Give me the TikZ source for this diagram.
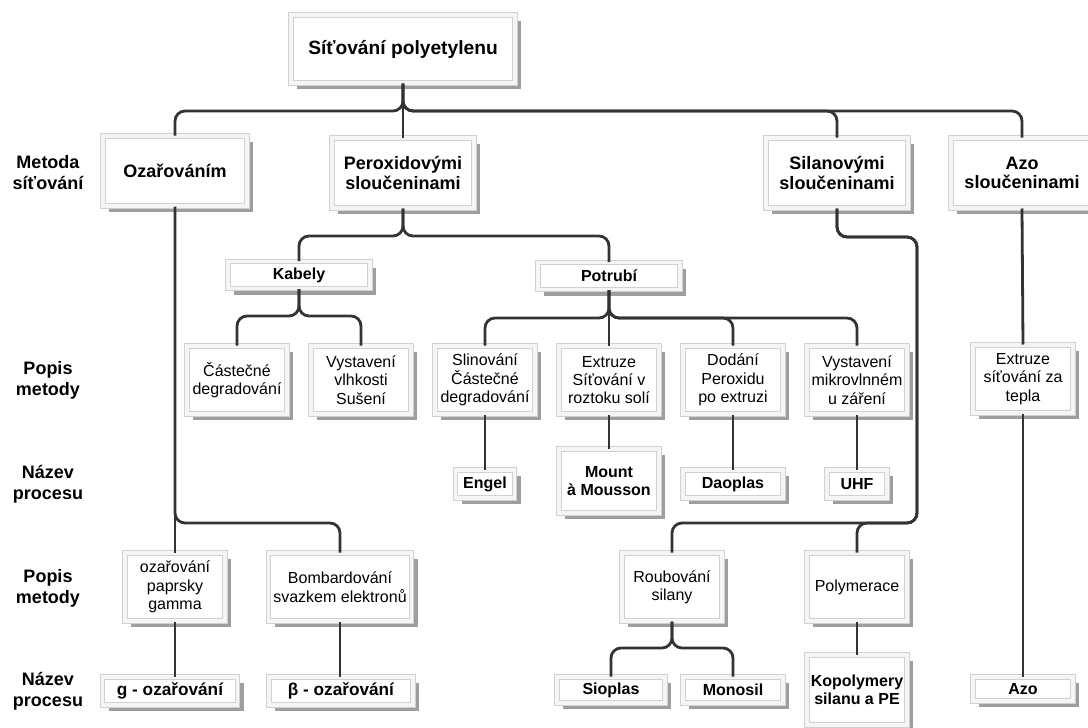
\documentclass[tikz,border=0pt]{standalone}
\usepackage{fontspec}
\setmainfont{Liberation Sans}
\usetikzlibrary{shadows}

\begin{document}
\begin{tikzpicture}[
    x=0.5pt, y=-0.5pt,
    box/.style={draw=black!18, line width=0.5pt, double=black!4, double distance=1.6pt, fill=white, align=center, inner sep=1pt,
        drop shadow={shadow xshift=3pt, shadow yshift=-3pt, fill=black!38, opacity=1}},
    head/.style={box, minimum width=71pt, minimum height=35pt, font=\bfseries\fontsize{9}{9.6}\selectfont},
    desc/.style={box, minimum width=50pt, minimum height=34pt, font=\fontsize{8}{9.2}\selectfont},
    proc/.style={box, minimum height=14pt, font=\bfseries\fontsize{8}{8.8}\selectfont},
    bigproc/.style={proc, font=\bfseries\fontsize{8.6}{9.5}\selectfont},
    side/.style={align=center, font=\bfseries\fontsize{9}{10.5}\selectfont},
    conn/.style={draw=black!80, line width=1.4pt, rounded corners=5pt}
]
\useasboundingbox (0,0) rectangle (1088,728);
\clip (0,0) rectangle (1088,728);

\node[side] (m1) at (48,173) {Metoda\\síťování};
\node[side] (m2) at (48,380) {Popis\\metody};
\node[side] (m3) at (48,484) {Název\\procesu};
\node[side] (m4) at (48,588) {Popis\\metody};
\node[side] (m5) at (48,691) {Název\\procesu};

\node[box, minimum width=112pt, minimum height=34pt, font=\bfseries\fontsize{9.6}{11}\selectfont] (title) at (403,49) {Síťování polyetylenu};

\node[head, minimum width=72pt] (ozar) at (175,171) {Ozařováním};
\node[head] (perox) at (403,173) {Peroxidovými\\sloučeninami};
\node[head] (sil) at (837,173) {Silanovými\\sloučeninami};
\node[head] (azo) at (1022,173) {Azo\\sloučeninami};

\node[proc, minimum width=71pt, minimum height=13.5pt] (kab) at (299,275) {Kabely};
\node[proc, minimum width=71pt, minimum height=13.5pt] (pot) at (609,276) {Potrubí};

\node[desc] (cast) at (237,380) {Částečné\\degradování};
\node[desc] (vlhk) at (361,380) {Vystavení\\vlhkosti\\Sušení};
\node[desc] (slin) at (485,380) {Slinování\\Částečné\\degradování};
\node[desc] (extr) at (609,380) {Extruze\\Síťování v\\roztoku solí};
\node[desc] (dod) at (733,380) {Dodání\\Peroxidu\\po extruzi};
\node[desc] (mikro) at (857,380) {Vystavení\\mikrovlnném\\u záření};
\node[desc] (tepl) at (1023,379) {Extruze\\síťování za\\tepla};

\node[proc, minimum width=29.5pt] (engel) at (485,484) {Engel};
\node[proc, minimum width=50pt, minimum height=32pt] (mount) at (609,481) {Mount\\à Mousson};
\node[proc, minimum width=50pt] (daop) at (733,484) {Daoplas};
\node[proc, minimum width=30pt] (uhf) at (857,484) {UHF};

\node[desc] (gamma) at (175,587) {ozařování\\paprsky\\gamma};
\node[desc, minimum width=71.5pt] (bomb) at (340,587) {Bombardování\\svazkem elektronů};
\node[desc] (roub) at (672,587) {Roubování\\silany};
\node[desc] (polym) at (857,587) {Polymerace};

\node[bigproc, minimum width=67.5pt] (gozar) at (170,691) {g - ozařování};
\node[bigproc, minimum width=72pt] (bozar) at (341,691) {β - ozařování};
\node[proc, minimum width=54pt, minimum height=13pt] (siop) at (611,690) {Sioplas};
\node[proc, minimum width=50pt, minimum height=13pt] (mono) at (733,690) {Monosil};
\node[proc, minimum width=50pt, minimum height=35pt] (kopo) at (857,690) {Kopolymery\\silanu a PE};
\node[proc, minimum width=50pt, minimum height=12pt] (azop) at (1023,689) {Azo};

\coordinate (lv1) at (0,111);
\coordinate (lv2) at (0,236);
\coordinate (lv3) at (0,316);
\coordinate (lv4) at (0,318);
\coordinate (lv5) at (0,523);
\coordinate (lv6) at (0,648);
\coordinate (silA) at (917,237);
\coordinate (silB) at (917,523);

\draw[conn] (title.south) -- (title.south |- lv1) -| (ozar.north);
\draw[conn] (title.south) -- (perox.north);
\draw[conn] (title.south) -- (title.south |- lv1) -| (sil.north);
\draw[conn] (title.south) -- (title.south |- lv1) -| (azo.north);

\draw[conn] (perox.south) -- (perox.south |- lv2) -| (kab.north);
\draw[conn] (perox.south) -- (perox.south |- lv2) -| (pot.north);

\draw[conn] (kab.south) -- (kab.south |- lv3) -| (cast.north);
\draw[conn] (kab.south) -- (kab.south |- lv3) -| (vlhk.north);

\draw[conn] (pot.south) -- (pot.south |- lv4) -| (slin.north);
\draw[conn] (pot.south) -- (extr.north);
\draw[conn] (pot.south) -- (pot.south |- lv4) -| (dod.north);
\draw[conn] (pot.south) -- (pot.south |- lv4) -| (mikro.north);

\draw[conn] (slin.south) -- (engel.north);
\draw[conn] (extr.south) -- (mount.north);
\draw[conn] (dod.south) -- (daop.north);
\draw[conn] (mikro.south) -- (uhf.north);

\draw[conn] (ozar.south) -- (gamma.north);
\draw[conn] (ozar.south) -- (ozar.south |- lv5) -| (bomb.north);
\draw[conn] (gamma.south) -- (gamma.south |- gozar.north);
\draw[conn] (bomb.south) -- (bomb.south |- bozar.north);

\draw[conn] (sil.south) |- (silA) -- (silB) -| (roub.north);
\draw[conn] (sil.south) |- (silA) -- (silB) -| (polym.north);

\draw[conn] (roub.south) -- (roub.south |- lv6) -| (siop.north);
\draw[conn] (roub.south) -- (roub.south |- lv6) -| (mono.north);
\draw[conn] (polym.south) -- (kopo.north);

\draw[conn] (azo.south) -- (tepl.north);
\draw[conn] (tepl.south) -- (azop.north);
\end{tikzpicture}
\end{document}
